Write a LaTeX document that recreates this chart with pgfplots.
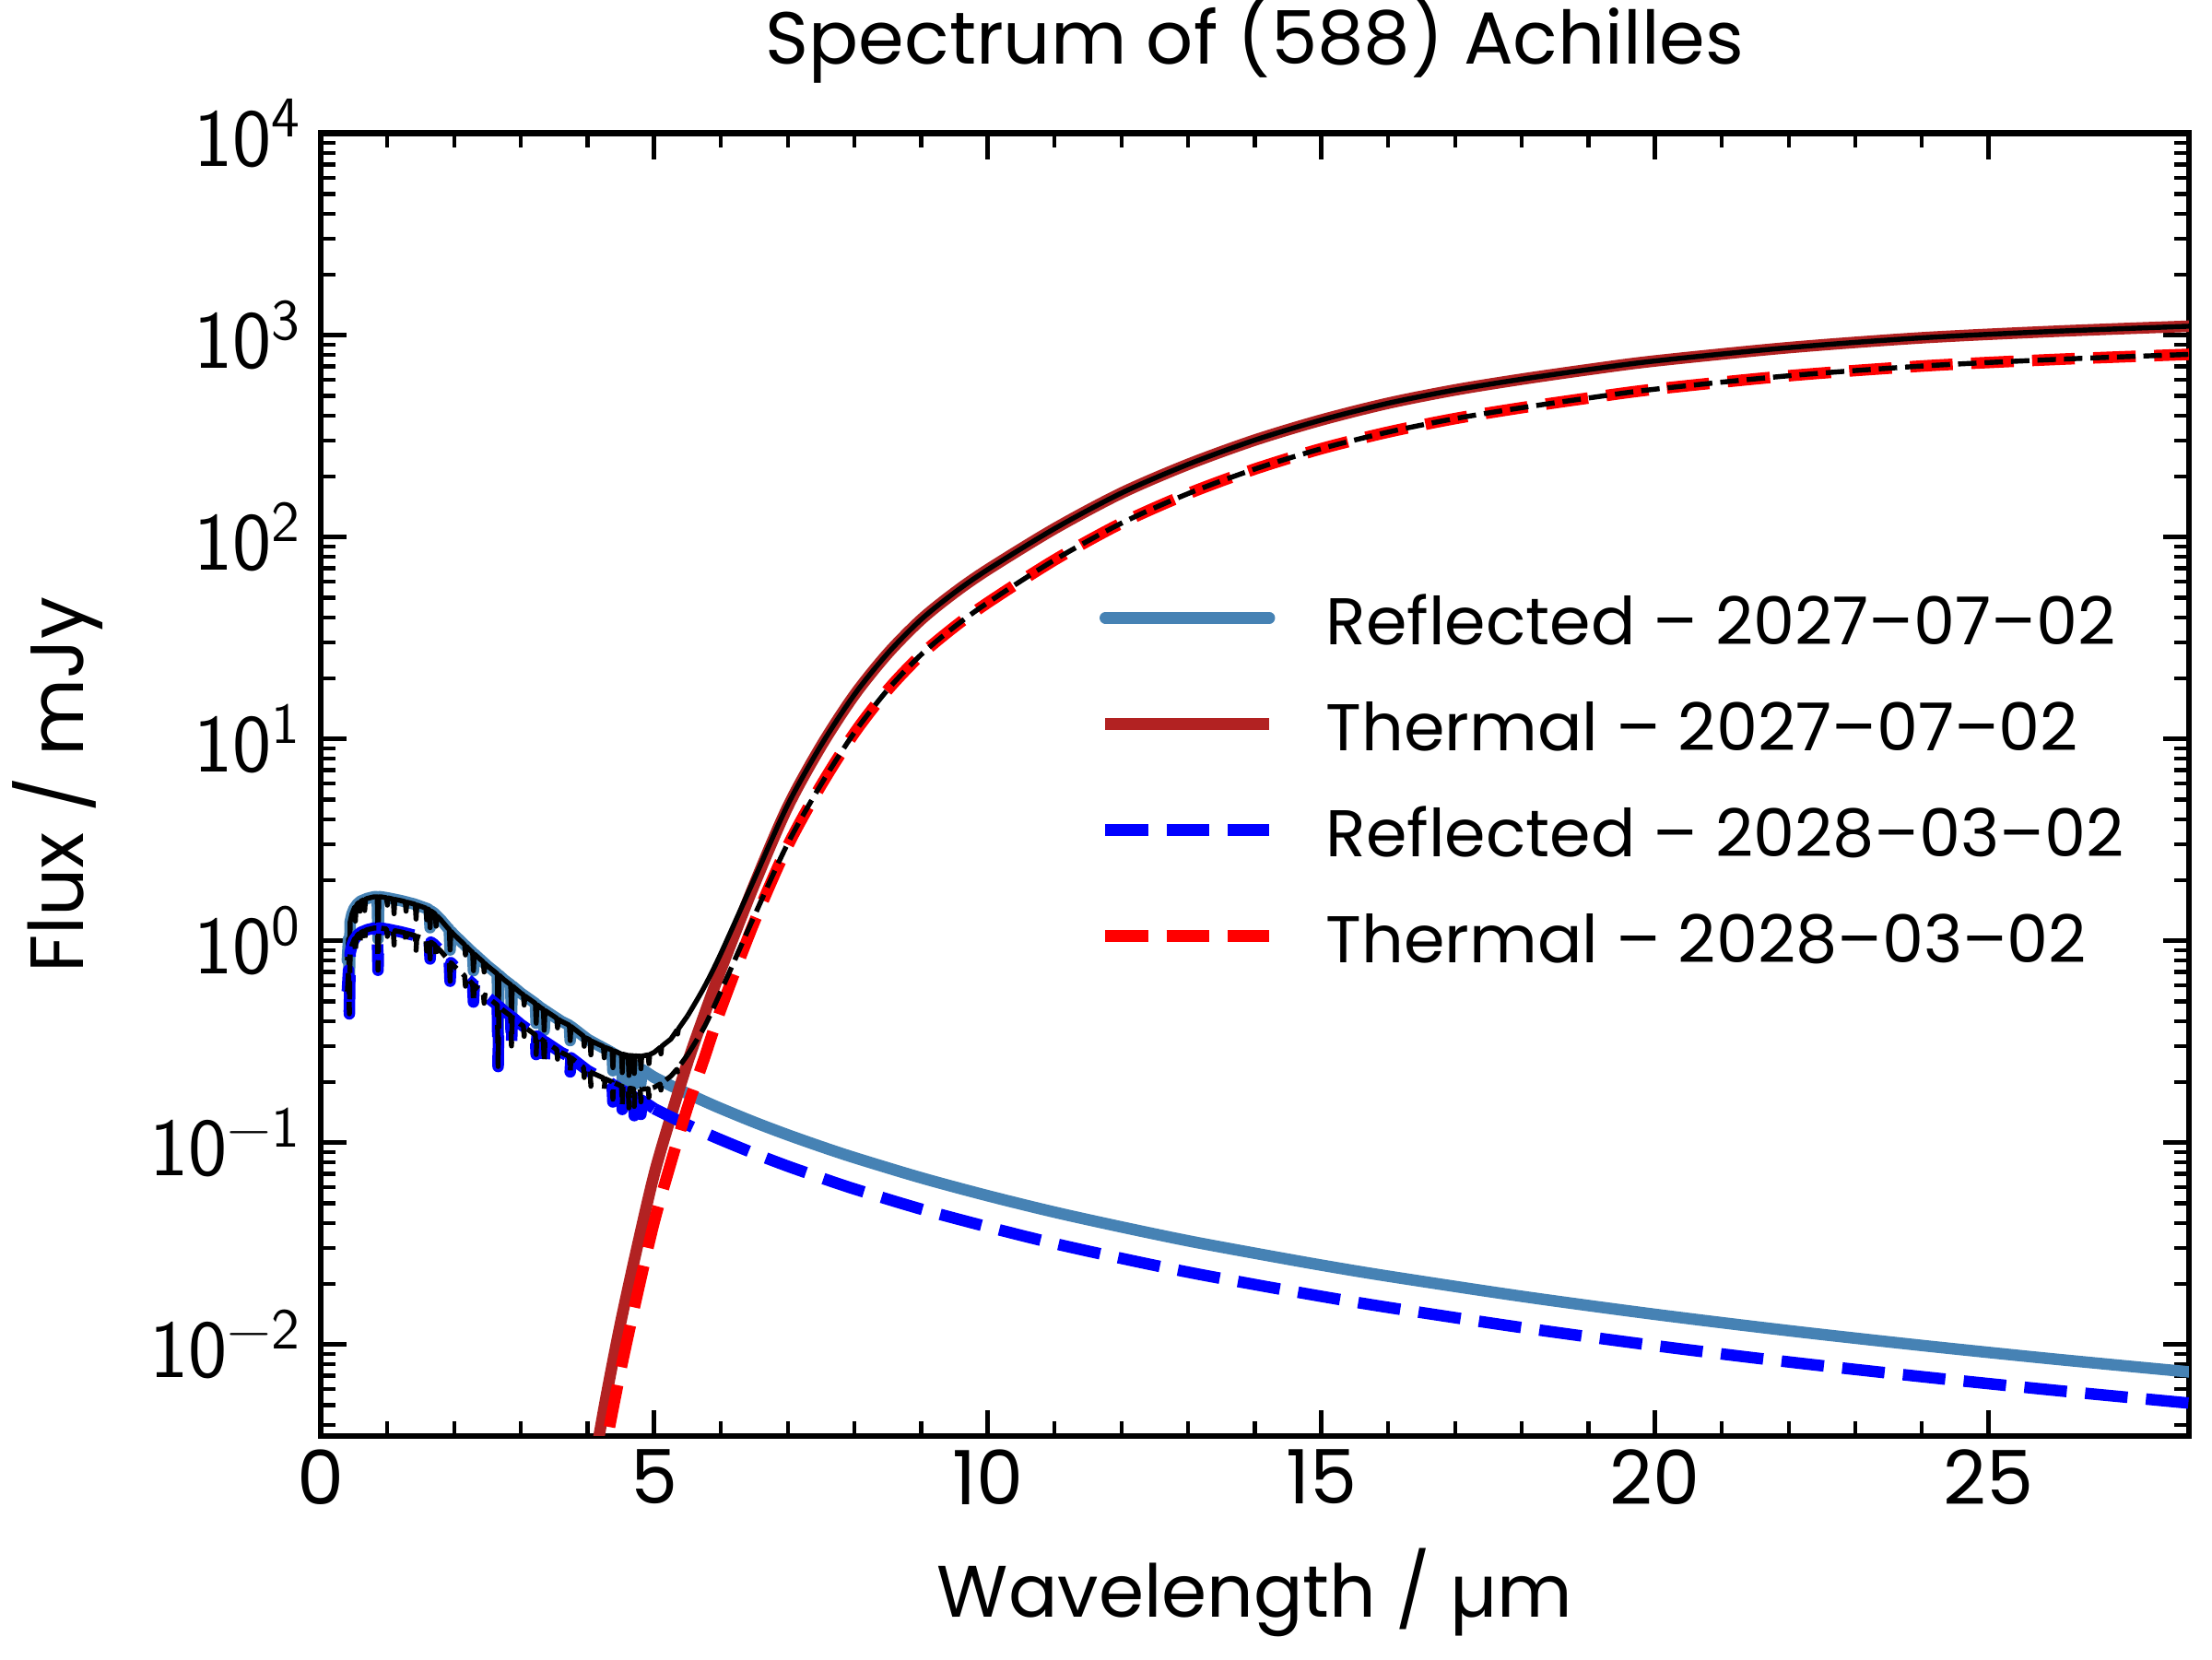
\documentclass[border=0pt]{standalone}
\usepackage{fontspec}
\setmainfont{Poppins}
\usepackage{pgfplots}
\pgfplotsset{compat=1.18}
\definecolor{steelblue}{HTML}{4682B4}
\definecolor{firebrick}{HTML}{B22222}

\begin{document}
\begin{tikzpicture}
\begin{axis}[
  scale only axis, width=486.5pt, height=339.2pt,
  xmin=0, xmax=28,
  ymode=log, ymin=0.00352, ymax=10000,
  xtick={0,5,10,15,20,25},
  minor x tick num=4,
  ytick={0.01,0.1,1,10,100,1000,10000},
  yticklabels={{\sffamily 10\textsuperscript{−2}},{\sffamily 10\textsuperscript{−1}},{\sffamily 10\textsuperscript{0}},{\sffamily 10\textsuperscript{1}},{\sffamily 10\textsuperscript{2}},{\sffamily 10\textsuperscript{3}},{\sffamily 10\textsuperscript{4}}},
  minor ytick={0.004,0.005,0.006,0.007,0.008,0.009,
    0.02,0.03,0.04,0.05,0.06,0.07,0.08,0.09,
    0.2,0.3,0.4,0.5,0.6,0.7,0.8,0.9,
    2,3,4,5,6,7,8,9,20,30,40,50,60,70,80,90,
    200,300,400,500,600,700,800,900,2000,3000,4000,5000,6000,7000,8000,9000},
  tick align=inside,
  major tick length=6.8pt, minor tick length=3.8pt,
  every tick/.style={black},
  major tick style={line width=1.2pt},
  minor tick style={line width=1pt},
  axis line style={line width=1.5pt},
  /pgf/number format/assume math mode=true,
  xticklabel style={font=\fontsize{19.5}{23}\selectfont},
  yticklabel style={font=\fontsize{21.5}{25}\selectfont, xshift=-1.4pt},
  title={Spectrum of (588) Achilles},
  title style={font=\fontsize{19.2}{23}\selectfont, at={(axis description cs:0.5,1.0351)}, anchor=base},
  xlabel={Wavelength / µm},
  xlabel style={font=\fontsize{19}{23}\selectfont, at={(axis description cs:0.5,-0.1394)}, anchor=base},
  ylabel={Flux / mJy},
  ylabel style={font=\fontsize{19.6}{23}\selectfont, at={(axis description cs:-0.1268,0.5)}, anchor=base},
  legend cell align=left,
  legend image code/.code={\draw[#1] (0pt,0pt) -- (42.7pt,0pt);},
  legend style={draw=none, fill=none, inner sep=0pt,
    at={(axis description cs:0.4165,0.6584)}, anchor=north west,
    font=\fontsize{17.2}{20}\selectfont,
    row sep=7.4pt, column sep=13.2pt,
    nodes={inner sep=0pt, text height=17.2pt, text depth=3pt}},
]

% reflected sunlight, 2027-07-02 (absorption region, then smooth continuum)
\addplot[steelblue, line width=3pt, line join=round, line cap=round] coordinates {
(0.40,0.80)(0.418,1.02)(0.43,0.62)(0.442,1.24)(0.47,1.36)(0.50,1.44)(0.55,1.52)(0.60,1.57)(0.70,1.62)(0.80,1.65)(0.848,1.65)(0.86,1.02)(0.872,1.65)(0.90,1.65)(1.00,1.63)(1.20,1.58)(1.40,1.52)(1.60,1.44)(1.628,1.42)(1.64,1.16)(1.652,1.405)(1.70,1.37)(1.80,1.27)(1.90,1.16)(1.928,1.135)(1.94,0.90)(1.952,1.113)(2.00,1.07)(2.25,0.89)(2.278,0.874)(2.29,0.71)(2.302,0.86)(2.50,0.75)(2.648,0.685)(2.66,0.34)(2.672,0.675)(2.75,0.64)(2.848,0.605)(2.86,0.43)(2.872,0.597)(3.00,0.55)(3.218,0.489)(3.23,0.39)(3.242,0.482)(3.30,0.465)(3.338,0.457)(3.35,0.36)(3.362,0.451)(3.60,0.40)(3.728,0.381)(3.74,0.32)(3.752,0.376)(4.00,0.325)(4.15,0.305)(4.30,0.287)(4.368,0.279)(4.38,0.227)(4.392,0.276)(4.508,0.261)(4.52,0.208)(4.532,0.259)(4.608,0.251)(4.62,0.195)(4.632,0.249)(4.688,0.243)(4.70,0.194)(4.712,0.241)(4.788,0.233)(4.80,0.197)(4.812,0.231)(5.00,0.2103)
};
\addlegendentry{Reflected – 2027–07–02}
\addplot[steelblue, line width=3pt, line join=round, line cap=round, smooth, forget plot] coordinates {
(5.00,0.2103)(5.25,0.1913)(5.50,0.1748)(5.75,0.1602)(6.00,0.1474)(6.50,0.1261)(7.00,0.1092)(7.50,0.0955)(8.00,0.0842)(9.00,0.0669)(10,0.0545)(11,0.0452)(12,0.0382)(13,0.0326)(14,0.0283)(15,0.0247)(16,0.02178)(18,0.01731)(20,0.01409)(22,0.0117)(24,0.00988)(26,0.00845)(28,0.00731)
};

% thermal emission, 2027-07-02
\addplot[firebrick, line width=3pt, line join=round, smooth] coordinates {
(4.00,0.0017)(4.15,0.0032)(4.30,0.0060)(4.50,0.0130)(4.75,0.031)(5.00,0.070)(5.25,0.135)(5.50,0.25)(5.75,0.43)(6.00,0.72)(6.50,1.9)(7.00,4.6)(7.50,9.2)(8.00,16.5)(8.50,26.5)(9.00,39)(9.50,53)(10,69)(11,110)(12,165)(13,229)(14,302)(15,380)(16,460)(17,535)(18,605)(19,675)(20,745)(22,867)(24,970)(26,1045)(28,1107)
};
\addlegendentry{Thermal – 2027–07–02}

% total, 2027-07-02
\addplot[black, line width=1.3pt, line join=round, forget plot] coordinates {
(0.40,0.80)(0.418,1.02)(0.43,0.62)(0.442,1.24)(0.47,1.36)(0.50,1.44)(0.508,1.46)(0.52,1.25)(0.532,1.48)(0.55,1.52)(0.578,1.55)(0.59,1.40)(0.602,1.57)(0.648,1.595)(0.66,1.41)(0.672,1.605)(0.70,1.62)(0.80,1.65)(0.848,1.65)(0.86,1.02)(0.872,1.65)(0.90,1.65)(0.988,1.632)(1.00,1.50)(1.012,1.628)(1.088,1.607)(1.10,1.36)(1.112,1.602)(1.20,1.58)(1.268,1.56)(1.28,1.40)(1.292,1.552)(1.40,1.52)(1.418,1.513)(1.43,1.28)(1.442,1.503)(1.578,1.45)(1.59,1.27)(1.602,1.439)(1.628,1.42)(1.64,1.16)(1.652,1.405)(1.70,1.37)(1.718,1.35)(1.73,1.18)(1.742,1.326)(1.80,1.27)(1.90,1.16)(1.928,1.135)(1.94,0.90)(1.952,1.113)(2.00,1.07)(2.158,0.955)(2.17,0.85)(2.182,0.938)(2.25,0.89)(2.278,0.874)(2.29,0.71)(2.302,0.86)(2.438,0.784)(2.45,0.70)(2.462,0.772)(2.50,0.75)(2.648,0.685)(2.66,0.34)(2.672,0.675)(2.75,0.64)(2.848,0.605)(2.86,0.43)(2.872,0.597)(3.00,0.55)(3.038,0.54)(3.05,0.48)(3.062,0.532)(3.218,0.489)(3.23,0.39)(3.242,0.482)(3.30,0.465)(3.338,0.457)(3.35,0.36)(3.362,0.451)(3.538,0.413)(3.55,0.37)(3.562,0.408)(3.60,0.40)(3.728,0.381)(3.74,0.32)(3.752,0.376)(3.938,0.337)(3.95,0.30)(3.962,0.331)
(4.00,0.327)(4.038,0.322)(4.05,0.272)(4.062,0.318)(4.15,0.308)(4.238,0.299)(4.25,0.263)(4.262,0.296)(4.30,0.293)(4.368,0.287)(4.38,0.235)(4.392,0.285)(4.50,0.275)(4.508,0.275)(4.52,0.222)(4.532,0.274)(4.608,0.270)(4.62,0.215)(4.632,0.270)(4.688,0.269)(4.70,0.220)(4.712,0.269)(4.75,0.268)(4.788,0.268)(4.80,0.232)(4.812,0.268)(4.908,0.272)(4.92,0.246)(4.932,0.273)(5.00,0.280)(5.088,0.296)(5.10,0.275)(5.112,0.300)(5.25,0.326)(5.338,0.36)(5.35,0.345)(5.362,0.366)(5.50,0.425)
};
\addplot[black, line width=1.3pt, line join=round, smooth, forget plot] coordinates {
(5.50,0.425)(5.75,0.59)(6.00,0.867)(6.50,2.026)(7.00,4.71)(7.50,9.30)(8.00,16.58)(8.50,26.58)(9.00,39.07)(9.50,53.06)(10,69.05)(11,110.05)(12,165.04)(13,229.03)(14,302.03)(15,380.02)(16,460.02)(17,535.02)(18,605.02)(19,675.02)(20,745.01)(22,867)(24,970)(26,1045)(28,1107)
};

% reflected sunlight, 2028-03-02
\addplot[blue, line width=3pt, line join=round, dash pattern=on 11.1pt off 4.8pt] coordinates {
(0.40,0.56)(0.418,0.714)(0.43,0.434)(0.442,0.868)(0.47,0.952)(0.50,1.008)(0.55,1.064)(0.60,1.099)(0.70,1.134)(0.80,1.155)(0.848,1.155)(0.86,0.714)(0.872,1.155)(0.90,1.155)(1.00,1.141)(1.20,1.106)(1.40,1.064)(1.60,1.008)(1.628,0.994)(1.64,0.812)(1.652,0.984)(1.70,0.959)(1.80,0.889)(1.90,0.812)(1.928,0.795)(1.94,0.63)(1.952,0.779)(2.00,0.749)(2.25,0.623)(2.278,0.612)(2.29,0.497)(2.302,0.602)(2.50,0.525)(2.648,0.48)(2.66,0.238)(2.672,0.473)(2.75,0.448)(2.848,0.424)(2.86,0.301)(2.872,0.418)(3.00,0.385)(3.218,0.342)(3.23,0.273)(3.242,0.337)(3.30,0.326)(3.338,0.32)(3.35,0.252)(3.362,0.316)(3.60,0.28)(3.728,0.267)(3.74,0.224)(3.752,0.263)(4.00,0.2275)(4.15,0.2135)(4.30,0.201)(4.368,0.195)(4.38,0.159)(4.392,0.193)(4.508,0.183)(4.52,0.146)(4.532,0.181)(4.608,0.176)(4.62,0.137)(4.632,0.174)(4.688,0.170)(4.70,0.136)(4.712,0.169)(4.788,0.163)(4.80,0.138)(4.812,0.162)(5.00,0.1472)
};
\addlegendentry{Reflected – 2028–03–02}
\addplot[blue, line width=3pt, line join=round, smooth, dash pattern=on 11.1pt off 4.8pt, forget plot] coordinates {
(5.00,0.1472)(5.25,0.1339)(5.50,0.1224)(5.75,0.1121)(6.00,0.1032)(6.50,0.0883)(7.00,0.0764)(7.50,0.0669)(8.00,0.0589)(9.00,0.0468)(10,0.0382)(11,0.0316)(12,0.0267)(13,0.0228)(14,0.0198)(15,0.0173)(16,0.01525)(18,0.01212)(20,0.00986)(22,0.00819)(24,0.00692)(26,0.00592)(28,0.00512)
};

% thermal emission, 2028-03-02
\addplot[red, line width=3pt, line join=round, smooth, dash pattern=on 11.1pt off 4.8pt] coordinates {
(4.00,0.00099)(4.15,0.00186)(4.30,0.00348)(4.50,0.00754)(4.75,0.0180)(5.00,0.0406)(5.25,0.0797)(5.50,0.150)(5.75,0.262)(6.00,0.46)(6.50,1.24)(7.00,2.95)(7.50,5.89)(8.00,10.7)(8.50,17.5)(9.00,26.1)(9.50,35.9)(10,47.3)(11,77)(12,117)(13,164)(14,217)(15,274)(16,331)(17,386)(18,437)(19,488)(20,540)(22,629)(24,703)(26,758)(28,803)
};
\addlegendentry{Thermal – 2028–03–02}

% total, 2028-03-02
\addplot[black, line width=1.3pt, line join=round, dash pattern=on 4.8pt off 2.1pt, forget plot] coordinates {
(0.40,0.56)(0.418,0.714)(0.43,0.434)(0.442,0.868)(0.47,0.952)(0.50,1.008)(0.508,1.022)(0.52,0.875)(0.532,1.036)(0.55,1.064)(0.578,1.085)(0.59,0.98)(0.602,1.099)(0.648,1.117)(0.66,0.987)(0.672,1.124)(0.70,1.134)(0.80,1.155)(0.848,1.155)(0.86,0.714)(0.872,1.155)(0.90,1.155)(0.988,1.142)(1.00,1.05)(1.012,1.14)(1.088,1.125)(1.10,0.952)(1.112,1.121)(1.20,1.106)(1.268,1.092)(1.28,0.98)(1.292,1.086)(1.40,1.064)(1.418,1.059)(1.43,0.896)(1.442,1.052)(1.578,1.015)(1.59,0.889)(1.602,1.007)(1.628,0.994)(1.64,0.812)(1.652,0.984)(1.70,0.959)(1.718,0.945)(1.73,0.826)(1.742,0.928)(1.80,0.889)(1.90,0.812)(1.928,0.795)(1.94,0.63)(1.952,0.779)(2.00,0.749)(2.158,0.669)(2.17,0.595)(2.182,0.657)(2.25,0.623)(2.278,0.612)(2.29,0.497)(2.302,0.602)(2.438,0.549)(2.45,0.49)(2.462,0.54)(2.50,0.525)(2.648,0.48)(2.66,0.238)(2.672,0.473)(2.75,0.448)(2.848,0.424)(2.86,0.301)(2.872,0.418)(3.00,0.385)(3.038,0.378)(3.05,0.336)(3.062,0.372)(3.218,0.342)(3.23,0.273)(3.242,0.337)(3.30,0.326)(3.338,0.32)(3.35,0.252)(3.362,0.316)(3.538,0.289)(3.55,0.259)(3.562,0.286)(3.60,0.28)(3.728,0.267)(3.74,0.224)(3.752,0.263)(3.938,0.236)(3.95,0.21)(3.962,0.232)
(4.00,0.2285)(4.038,0.225)(4.05,0.190)(4.062,0.222)(4.15,0.2154)(4.238,0.209)(4.25,0.184)(4.262,0.207)(4.30,0.2045)(4.368,0.200)(4.38,0.164)(4.392,0.198)(4.50,0.191)(4.508,0.191)(4.52,0.154)(4.532,0.189)(4.608,0.187)(4.62,0.1485)(4.632,0.186)(4.688,0.1845)(4.70,0.151)(4.712,0.1845)(4.75,0.184)(4.788,0.1834)(4.80,0.159)(4.812,0.1836)(4.908,0.185)(4.92,0.1675)(4.932,0.185)(5.00,0.188)(5.088,0.195)(5.10,0.182)(5.112,0.197)(5.25,0.2136)(5.338,0.2306)(5.35,0.224)(5.362,0.2355)(5.50,0.2724)
};
\addplot[black, line width=1.3pt, line join=round, smooth, dash pattern=on 4.8pt off 2.1pt, forget plot] coordinates {
(5.50,0.2724)(5.75,0.374)(6.00,0.563)(6.50,1.328)(7.00,3.03)(7.50,5.957)(8.00,10.76)(8.50,17.55)(9.00,26.15)(9.50,35.94)(10,47.34)(11,77.03)(12,117.03)(13,164.02)(14,217.02)(15,274.02)(16,331.02)(17,386.01)(18,437.01)(19,488.01)(20,540.01)(22,629)(24,703)(26,758)(28,803)
};

\end{axis}
\pgfresetboundingbox
\path[use as bounding box] (current axis.south west) ++(-83.5pt,-58.1pt) rectangle ++(576pt,432pt);
\end{tikzpicture}
\end{document}
